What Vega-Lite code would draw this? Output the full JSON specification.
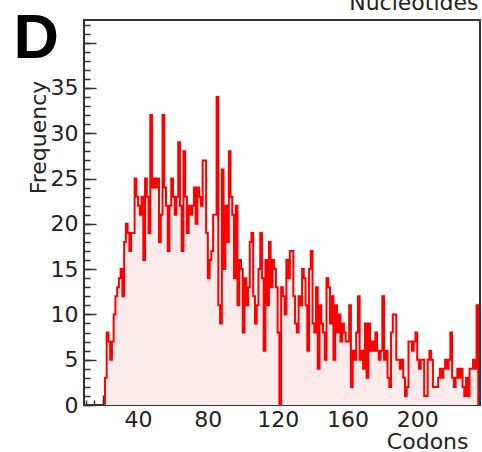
{
  "$schema": "https://vega.github.io/schema/vega-lite/v6.json",
  "width": 396,
  "height": 385,
  "autosize": "none",
  "padding": {"left": 84, "top": 20, "right": 2, "bottom": 47},
  "background": "white",
  "config": {
    "view": {"stroke": "#333", "strokeWidth": 2},
    "axis": {
      "domain": false, "grid": false,
      "labelFont": "DejaVu Sans", "labelFontSize": 22, "labelColor": "#222",
      "titleFont": "DejaVu Sans", "titleFontSize": 22, "titleFontWeight": "normal", "titleColor": "#222",
      "tickColor": "#333", "tickWidth": 1.5
    }
  },
  "data": {
    "values": [
      {"codon":21,"freq":0},{"codon":21,"freq":3},{"codon":22,"freq":8},{"codon":23,"freq":7},{"codon":24,"freq":5},
      {"codon":25,"freq":7},{"codon":26,"freq":10},{"codon":27,"freq":12},{"codon":28,"freq":13},{"codon":29,"freq":14},
      {"codon":30,"freq":15},{"codon":31,"freq":12},{"codon":32,"freq":18},{"codon":33,"freq":20},{"codon":34,"freq":19},
      {"codon":35,"freq":17},{"codon":36,"freq":19},{"codon":37,"freq":19},{"codon":38,"freq":25},{"codon":39,"freq":23},
      {"codon":40,"freq":22},{"codon":41,"freq":21},{"codon":42,"freq":23},{"codon":43,"freq":16},{"codon":44,"freq":25},
      {"codon":45,"freq":23},{"codon":46,"freq":19},{"codon":47,"freq":32},{"codon":48,"freq":24},{"codon":49,"freq":25},
      {"codon":50,"freq":24},{"codon":51,"freq":25},{"codon":52,"freq":18},{"codon":53,"freq":21},{"codon":54,"freq":32},
      {"codon":55,"freq":24},{"codon":56,"freq":22},{"codon":57,"freq":17},{"codon":58,"freq":22},{"codon":59,"freq":25},
      {"codon":60,"freq":23},{"codon":61,"freq":21},{"codon":62,"freq":23},{"codon":63,"freq":29},{"codon":64,"freq":22},
      {"codon":65,"freq":17},{"codon":66,"freq":28},{"codon":67,"freq":23},{"codon":68,"freq":19},{"codon":69,"freq":22},
      {"codon":70,"freq":21},{"codon":71,"freq":22},{"codon":72,"freq":24},{"codon":73,"freq":20},{"codon":74,"freq":24},
      {"codon":75,"freq":23},{"codon":76,"freq":22},{"codon":77,"freq":27},{"codon":78,"freq":27},{"codon":79,"freq":19},
      {"codon":80,"freq":14},{"codon":81,"freq":16},{"codon":82,"freq":17},{"codon":83,"freq":21},{"codon":84,"freq":21},
      {"codon":85,"freq":34},{"codon":86,"freq":11},{"codon":87,"freq":9},{"codon":88,"freq":26},{"codon":89,"freq":15},
      {"codon":90,"freq":22},{"codon":91,"freq":18},{"codon":92,"freq":28},{"codon":93,"freq":23},{"codon":94,"freq":21},
      {"codon":95,"freq":14},{"codon":96,"freq":22},{"codon":97,"freq":11},{"codon":98,"freq":16},{"codon":99,"freq":15},
      {"codon":100,"freq":8},{"codon":101,"freq":14},{"codon":102,"freq":11},{"codon":103,"freq":13},{"codon":104,"freq":18},
      {"codon":105,"freq":19},{"codon":106,"freq":12},{"codon":107,"freq":9},{"codon":108,"freq":11},{"codon":109,"freq":15},
      {"codon":110,"freq":19},{"codon":111,"freq":14},{"codon":112,"freq":6},{"codon":113,"freq":16},{"codon":114,"freq":11},
      {"codon":115,"freq":18},{"codon":116,"freq":13},{"codon":117,"freq":16},{"codon":118,"freq":15},{"codon":119,"freq":13},
      {"codon":120,"freq":8},{"codon":121,"freq":0},{"codon":122,"freq":13},{"codon":123,"freq":12},{"codon":124,"freq":10},
      {"codon":125,"freq":16},{"codon":126,"freq":14},{"codon":127,"freq":17},{"codon":128,"freq":17},{"codon":129,"freq":12},
      {"codon":130,"freq":9},{"codon":131,"freq":8},{"codon":132,"freq":12},{"codon":133,"freq":11},{"codon":134,"freq":15},
      {"codon":135,"freq":14},{"codon":136,"freq":11},{"codon":137,"freq":6},{"codon":138,"freq":15},{"codon":139,"freq":17},
      {"codon":140,"freq":9},{"codon":141,"freq":8},{"codon":142,"freq":13},{"codon":143,"freq":4},{"codon":144,"freq":11},
      {"codon":145,"freq":9},{"codon":146,"freq":8},{"codon":147,"freq":5},{"codon":148,"freq":14},{"codon":149,"freq":13},
      {"codon":150,"freq":9},{"codon":151,"freq":12},{"codon":152,"freq":5},{"codon":153,"freq":11},{"codon":154,"freq":8},
      {"codon":155,"freq":10},{"codon":156,"freq":7},{"codon":157,"freq":9},{"codon":158,"freq":8},{"codon":159,"freq":7},
      {"codon":160,"freq":7},{"codon":161,"freq":11},{"codon":162,"freq":2},{"codon":163,"freq":6},{"codon":164,"freq":5},
      {"codon":165,"freq":8},{"codon":166,"freq":12},{"codon":167,"freq":5},{"codon":168,"freq":6},{"codon":169,"freq":4},
      {"codon":170,"freq":9},{"codon":171,"freq":3},{"codon":172,"freq":9},{"codon":173,"freq":6},{"codon":174,"freq":7},
      {"codon":175,"freq":6},{"codon":176,"freq":8},{"codon":177,"freq":6},{"codon":178,"freq":5},{"codon":179,"freq":6},
      {"codon":180,"freq":12},{"codon":181,"freq":5},{"codon":182,"freq":6},{"codon":183,"freq":3},{"codon":184,"freq":2},
      {"codon":185,"freq":8},{"codon":186,"freq":10},{"codon":187,"freq":10},{"codon":188,"freq":5},{"codon":189,"freq":5},
      {"codon":190,"freq":4},{"codon":191,"freq":5},{"codon":192,"freq":3},{"codon":193,"freq":1},{"codon":194,"freq":2},
      {"codon":195,"freq":7},{"codon":196,"freq":7},{"codon":197,"freq":6},{"codon":198,"freq":7},{"codon":199,"freq":8},
      {"codon":200,"freq":5},{"codon":201,"freq":4},{"codon":202,"freq":5},{"codon":203,"freq":5},{"codon":204,"freq":1},
      {"codon":205,"freq":1},{"codon":206,"freq":5},{"codon":207,"freq":6},{"codon":208,"freq":5},{"codon":209,"freq":2},
      {"codon":210,"freq":2},{"codon":211,"freq":2},{"codon":212,"freq":3},{"codon":213,"freq":4},{"codon":214,"freq":3},
      {"codon":215,"freq":4},{"codon":216,"freq":5},{"codon":217,"freq":4},{"codon":218,"freq":5},{"codon":219,"freq":8},
      {"codon":220,"freq":3},{"codon":221,"freq":2},{"codon":222,"freq":3},{"codon":223,"freq":4},{"codon":224,"freq":3},
      {"codon":225,"freq":4},{"codon":226,"freq":2},{"codon":227,"freq":1},{"codon":228,"freq":3},{"codon":229,"freq":1},
      {"codon":230,"freq":4},{"codon":231,"freq":4},{"codon":232,"freq":5},{"codon":233,"freq":4},{"codon":234,"freq":11},
      {"codon":235,"freq":0}
    ]
  },
  "layer": [
    {
      "mark": {"type": "area", "interpolate": "step-after", "color": "#fdeaea"},
      "encoding": {
        "x": {
          "field": "codon", "type": "quantitative",
          "scale": {"domain": [9, 236], "nice": false, "zero": false},
          "axis": {
            "orient": "bottom", "values": [20, 40, 60, 80, 100, 120, 140, 160, 180, 200, 220],
            "labelExpr": "datum.value % 40 == 0 ? datum.label : ''",
            "tickSize": -10, "labelPadding": 14, "labelFlush": false, "labelOverlap": false,
            "title": "Codons", "titleAnchor": null, "titleAlign": "right", "titleBaseline": "alphabetic",
            "titleX": 384, "titleY": 43
          }
        },
        "y": {
          "field": "freq", "type": "quantitative",
          "scale": {"domain": [0, 42.5], "nice": false},
          "axis": {
            "orient": "left", "values": [0, 5, 10, 15, 20, 25, 30, 35, 40],
            "labelExpr": "datum.value == 40 ? '' : datum.label",
            "tickSize": -12, "labelPadding": 18, "labelFlush": false, "labelOverlap": false,
            "labelAlign": "right", "labelBaseline": "middle",
            "encode": {"labels": {"update": {"dx": {"signal": "datum.value == 5 ? -16 : datum.value == 0 ? 4 : 0"}, "dy": {"signal": "datum.value == 0 ? 2 : 0"}}}},
            "title": "Frequency", "titleAnchor": null, "titleAngle": -90, "titleAlign": "center",
            "titleBaseline": "alphabetic", "titleX": -39, "titleY": 117
          }
        }
      }
    },
    {
      "mark": {"type": "line", "interpolate": "step-after", "color": "#ff0000", "strokeWidth": 2},
      "encoding": {
        "x": {
          "field": "codon", "type": "quantitative",
          "scale": {"domain": [9, 236], "nice": false, "zero": false},
          "axis": {
            "orient": "bottom",
            "values": [10, 15, 20, 25, 30, 35, 40, 45, 50, 55, 60, 65, 70, 75, 80, 85, 90, 95, 100, 105, 110, 115, 120, 125, 130, 135, 140, 145, 150, 155, 160, 165, 170, 175, 180, 185, 190, 195, 200, 205, 210, 215, 220, 225, 230, 235],
            "tickSize": -5, "labels": false, "title": null
          }
        },
        "y": {
          "field": "freq", "type": "quantitative",
          "scale": {"domain": [0, 42.5], "nice": false},
          "axis": {
            "orient": "left",
            "values": [0, 1, 2, 3, 4, 5, 6, 7, 8, 9, 10, 11, 12, 13, 14, 15, 16, 17, 18, 19, 20, 21, 22, 23, 24, 25, 26, 27, 28, 29, 30, 31, 32, 33, 34, 35, 36, 37, 38, 39, 40, 41, 42],
            "tickSize": -6, "labels": false, "title": null
          }
        }
      }
    },
    {
      "mark": {"type": "line", "strokeOpacity": 0},
      "encoding": {
        "x": {
          "field": "codon", "type": "quantitative",
          "scale": {"domain": [9, 236], "nice": false, "zero": false},
          "axis": {
            "orient": "top", "ticks": false, "labels": false,
            "title": "Nucleotides", "titleAnchor": null, "titleAlign": "right", "titleBaseline": "alphabetic",
            "titleX": 394, "titleY": -11
          }
        },
        "y": {
          "field": "freq", "type": "quantitative",
          "scale": {"domain": [0, 42.5], "nice": false},
          "axis": {
            "orient": "left", "ticks": false, "labels": false,
            "title": "D", "titleFont": "Liberation Sans", "titleFontSize": 63, "titleFontWeight": "bold",
            "titleColor": "#000", "titleAngle": 0, "titleAnchor": null, "titleAlign": "left",
            "titleBaseline": "alphabetic", "titleX": -71, "titleY": 37
          }
        }
      }
    }
  ],
  "resolve": {"axis": {"x": "independent", "y": "independent"}}
}
